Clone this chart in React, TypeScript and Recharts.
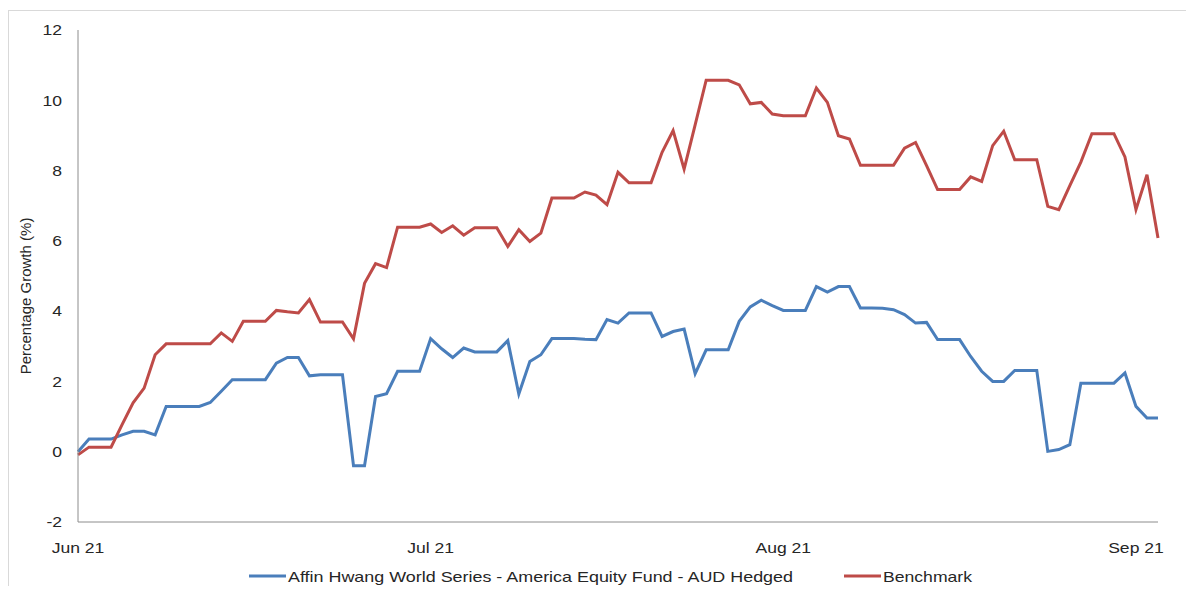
import { Legend, Line, LineChart, XAxis, YAxis } from 'recharts'

// month labels sit on every 32nd point of the series
const monthLabels = ['Jun 21', 'Jul 21', 'Aug 21', 'Sep 21']
const monthTickIndex = [0, 32, 64, 96]
const yTicks = [-2, 0, 2, 4, 6, 8, 10, 12]

const fundName = 'Affin Hwang World Series - America Equity Fund - AUD Hedged'
const benchmarkName = 'Benchmark'

const fundValues = [
  0.0, 0.36, 0.36, 0.36, 0.48, 0.58, 0.58, 0.48, 1.29, 1.29,
  1.29, 1.29, 1.4, 1.72, 2.05, 2.05, 2.05, 2.05, 2.52, 2.68,
  2.68, 2.16, 2.19, 2.19, 2.19, -0.4, -0.4, 1.57, 1.65, 2.29,
  2.29, 2.29, 3.22, 2.93, 2.68, 2.95, 2.84, 2.84, 2.84, 3.16,
  1.64, 2.57, 2.76, 3.22, 3.22, 3.22, 3.2, 3.19, 3.76, 3.66,
  3.95, 3.95, 3.95, 3.28, 3.42, 3.49, 2.22, 2.9, 2.9, 2.9,
  3.71, 4.12, 4.31, 4.16, 4.02, 4.02, 4.02, 4.7, 4.54, 4.7,
  4.7, 4.09, 4.09, 4.08, 4.04, 3.9, 3.66, 3.68, 3.19, 3.19,
  3.19, 2.71, 2.29, 2.0, 2.0, 2.31, 2.31, 2.31, 0.01, 0.06,
  0.2, 1.95, 1.95, 1.95, 1.95, 2.24, 1.29, 0.96, 0.96,
]

const benchmarkValues = [
  -0.09, 0.13, 0.13, 0.13, 0.77, 1.39, 1.81, 2.76, 3.07, 3.07,
  3.07, 3.07, 3.07, 3.38, 3.14, 3.71, 3.71, 3.71, 4.02, 3.98,
  3.95, 4.33, 3.69, 3.69, 3.69, 3.21, 4.79, 5.35, 5.24, 6.39,
  6.39, 6.39, 6.48, 6.24, 6.43, 6.16, 6.37, 6.37, 6.37, 5.84,
  6.32, 5.98, 6.22, 7.22, 7.22, 7.22, 7.39, 7.3, 7.03, 7.95,
  7.65, 7.65, 7.65, 8.52, 9.14, 8.04, 9.3, 10.57, 10.57, 10.57,
  10.44, 9.9, 9.94, 9.61, 9.56, 9.56, 9.56, 10.35, 9.94, 8.99,
  8.9, 8.15, 8.15, 8.15, 8.15, 8.64, 8.8, 8.14, 7.46, 7.46,
  7.46, 7.82, 7.69, 8.71, 9.12, 8.31, 8.31, 8.31, 6.98, 6.89,
  7.57, 8.24, 9.05, 9.05, 9.05, 8.39, 6.89, 7.88, 6.08,
]

const data = fundValues.map((v, i) => ({
  idx: i,
  fund: v,
  benchmark: benchmarkValues[i],
}))

const TEXT = '#262626'
const AXIS = '#8c8c8c'
const BLUE = '#4a7ebb'
const RED = '#be4b48'
const FONT = '"Liberation Sans", Arial, sans-serif'
const STRETCH = 1.17

function XTick({ x, y, payload }: any) {
  const label = monthLabels[monthTickIndex.indexOf(payload.value)]
  return (
    <text
      x={0}
      y={0}
      dy="0.71em"
      textAnchor="middle"
      transform={`translate(${x},${y}) scale(${STRETCH},1)`}
      fontSize={15}
      fontFamily={FONT}
      fill={TEXT}
    >
      {label}
    </text>
  )
}

function YTick({ x, y, payload }: any) {
  return (
    <text
      x={0}
      y={0}
      dy="0.35em"
      textAnchor="end"
      transform={`translate(${x},${y}) scale(${STRETCH},1)`}
      fontSize={15}
      fontFamily={FONT}
      fill={TEXT}
    >
      {payload.value}
    </text>
  )
}

function AxisTitle(props: any) {
  const vb = props.viewBox || { x: 0, y: 22, width: 70, height: 492 }
  const cx = vb.x + 17
  const cy = vb.y + vb.height / 2 + 20
  return (
    <text
      x={cx}
      y={cy}
      transform={`rotate(-90 ${cx} ${cy})`}
      textAnchor="middle"
      dominantBaseline="central"
      fontSize={15}
      fontFamily={FONT}
      fill={TEXT}
    >
      Percentage Growth (%)
    </text>
  )
}

const legendWidths: Record<string, number> = {
  [fundName]: 505,
  [benchmarkName]: 89,
}

function LegendContent({ payload }: any) {
  return (
    <div style={{ display: 'flex', height: 20, paddingLeft: 241, alignItems: 'center' }}>
      {(payload || []).map((item: any, i: number) => {
        const tw = legendWidths[item.value] ?? 100
        return (
          <svg
            key={item.value}
            width={38 + 2 + tw}
            height={20}
            style={{ marginLeft: i === 0 ? 0 : 50, display: 'block' }}
          >
            <line x1={0} x2={37} y1={10} y2={10} stroke={item.color} strokeWidth={3} />
            <text
              x={39}
              y={10}
              dominantBaseline="central"
              fontSize={15}
              fontFamily={FONT}
              fill={TEXT}
              textLength={tw}
              lengthAdjust="spacingAndGlyphs"
            >
              {item.value}
            </text>
          </svg>
        )
      })}
    </div>
  )
}

export default function App() {
  return (
    <div style={{ position: 'relative', width: 1186, height: 578, overflow: 'hidden', background: '#fff' }}>
      <div
        style={{
          position: 'absolute',
          left: 0,
          top: 2,
          width: 1300,
          height: 700,
          border: '1px solid #d9d9d9',
          pointerEvents: 'none',
        }}
      />
      <LineChart
        width={1186}
        height={578}
        data={data}
        margin={{ top: 22, right: 36, left: 0, bottom: 0 }}
      >
        <XAxis
          dataKey="idx"
          type="number"
          domain={[0, fundValues.length - 1]}
          ticks={monthTickIndex}
          interval={0}
          tick={<XTick />}
          tickLine={false}
          tickSize={0}
          tickMargin={20}
          height={44}
          axisLine={{ stroke: AXIS, strokeWidth: 1 }}
        />
        <YAxis
          domain={[-2, 12]}
          ticks={yTicks}
          interval={0}
          tick={<YTick />}
          tickLine={false}
          tickSize={0}
          tickMargin={16}
          width={70}
          axisLine={{ stroke: AXIS, strokeWidth: 1 }}
          label={(p: any) => <AxisTitle {...p} />}
        />
        <Legend verticalAlign="bottom" content={<LegendContent />} />
        <Line
          type="linear"
          dataKey="fund"
          name={fundName}
          stroke={BLUE}
          strokeWidth={3}
          dot={false}
          isAnimationActive={false}
        />
        <Line
          type="linear"
          dataKey="benchmark"
          name={benchmarkName}
          stroke={RED}
          strokeWidth={3}
          dot={false}
          isAnimationActive={false}
        />
      </LineChart>
    </div>
  )
}
